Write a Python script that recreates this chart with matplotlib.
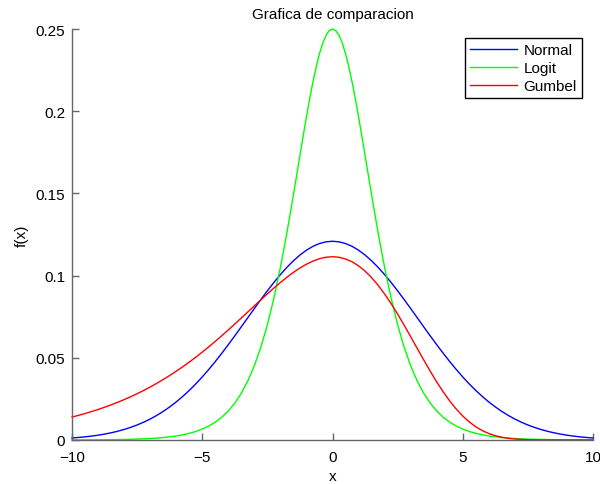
import numpy as np
import matplotlib
matplotlib.use('Agg')
import matplotlib.pyplot as plt
from matplotlib.ticker import FuncFormatter

plt.rcParams['font.family'] = ['Liberation Sans', 'DejaVu Sans']

# sample grid, step 0.25 from -10 to 10
x = np.linspace(-10, 10, 81)

# right half (x = 0 .. 10) of the symmetric normal curve
normal_half = [0.12089, 0.12054, 0.11951, 0.11781, 0.11547, 0.11252, 0.10902, 0.10503,
               0.10061, 0.09582, 0.09073, 0.08543, 0.07997, 0.07443, 0.06888, 0.06338,
               0.05799, 0.05275, 0.04771, 0.04291, 0.03836, 0.03410, 0.03014, 0.02649,
               0.02315, 0.02011, 0.01738, 0.01492, 0.01274, 0.01082, 0.00914, 0.00767,
               0.00640, 0.00531, 0.00438, 0.00360, 0.00293, 0.00238, 0.00192, 0.00154,
               0.00122]
normal = normal_half[:0:-1] + normal_half

# logit is sharper, so it is read finer near the peak (0..2 every 0.125, then every 0.25)
logit_x_half = np.concatenate([np.linspace(0, 2, 17), np.linspace(2.25, 10, 32)])
logit_half = [0.25, 0.24903, 0.24613, 0.24141, 0.23500, 0.22711, 0.21790, 0.20768,
              0.19661, 0.18498, 0.17311, 0.16111, 0.14915, 0.13753, 0.12613, 0.11537,
              0.10499,
              0.08626, 0.07010, 0.05647, 0.04518, 0.03595, 0.02845, 0.02246,
              0.01766, 0.013866, 0.010866, 0.008504, 0.006648, 0.005193, 0.004054, 0.003163,
              0.002467, 0.001923, 0.001499, 0.001168, 0.000910, 0.000709, 0.000553, 0.000431,
              0.000335, 0.000261, 0.000203, 0.000158, 0.000123, 0.000096, 0.000075, 0.000058,
              0.000045]
logit_x = np.concatenate([-logit_x_half[:0:-1], logit_x_half])
logit = logit_half[:0:-1] + logit_half

gumbel = [0.013949, 0.014991, 0.016103, 0.017294, 0.018564, 0.019921, 0.021367, 0.022912,
          0.024558, 0.026306, 0.028167, 0.030136, 0.032224, 0.034433, 0.036770, 0.039230,
          0.041818, 0.044536, 0.047382, 0.050357, 0.053454, 0.056676, 0.060012, 0.063440,
          0.066964, 0.070561, 0.074215, 0.077909, 0.081603, 0.085282, 0.088894, 0.092421,
          0.095800, 0.099006, 0.101970, 0.104624, 0.106940, 0.108837, 0.110273, 0.111167,
          0.111479,
          0.111155, 0.110136, 0.108412, 0.105936, 0.102733, 0.098785, 0.094127, 0.088824,
          0.082952, 0.076573, 0.069845, 0.062858, 0.055782, 0.048739, 0.041870, 0.035345,
          0.029270, 0.023742, 0.018830, 0.014573, 0.010991, 0.008055, 0.005727, 0.003942,
          0.002618, 0.001673, 0.001027, 0.000603, 0.000337, 0.000179, 0.000090, 0.000043,
          0.000019, 0.0000078, 0.000003, 0.000001, 0.0, 0.0, 0.0, 0.0]

labels = ['Normal', 'Logit', 'Gumbel']
colors = ['#0000ff', '#00ff00', '#ff0000']

fig = plt.figure(figsize=(6, 4.85), dpi=100)
ax = fig.add_axes([72 / 600, 44 / 485, 521 / 600, 411 / 485])

series = [(x, normal), (logit_x, logit), (x, gumbel)]
for (xs, ys), lab, c in zip(series, labels, colors):
    ax.plot(xs, ys, color=c, lw=1.0, label=lab, clip_on=False)

ax.set_xlim(-10, 10)
ax.set_ylim(0, 0.25)
ax.set_xticks([-10, -5, 0, 5, 10])
ax.set_yticks([0, 0.05, 0.1, 0.15, 0.2, 0.25])
ax.yaxis.set_major_formatter(FuncFormatter(lambda v, _: f'{v:g}'))

for s in ['top', 'right']:
    ax.spines[s].set_visible(False)
for s in ['left', 'bottom']:
    ax.spines[s].set_color('#666666')
    ax.spines[s].set_linewidth(1.0)
ax.tick_params(direction='in', length=5, width=1.0, color='#666666',
               labelsize=11, labelcolor='black')
ax.tick_params(axis='x', pad=7)
ax.tick_params(axis='y', pad=5)

ax.set_title('Grafica de comparacion', fontsize=11, pad=8)
ax.set_xlabel('x', fontsize=11, labelpad=4)
ax.set_ylabel('f(x)', fontsize=11, labelpad=5)

leg = ax.legend(loc='upper right', bbox_to_anchor=(1 - 11 / 521, 1 - 9 / 411),
                borderaxespad=0, fontsize=11, fancybox=False, framealpha=1,
                edgecolor='black', handlelength=3.1, handletextpad=0.4,
                labelspacing=0.25, borderpad=0.35)
leg.get_frame().set_linewidth(1.0)

fig.savefig('out.png', dpi=100)
